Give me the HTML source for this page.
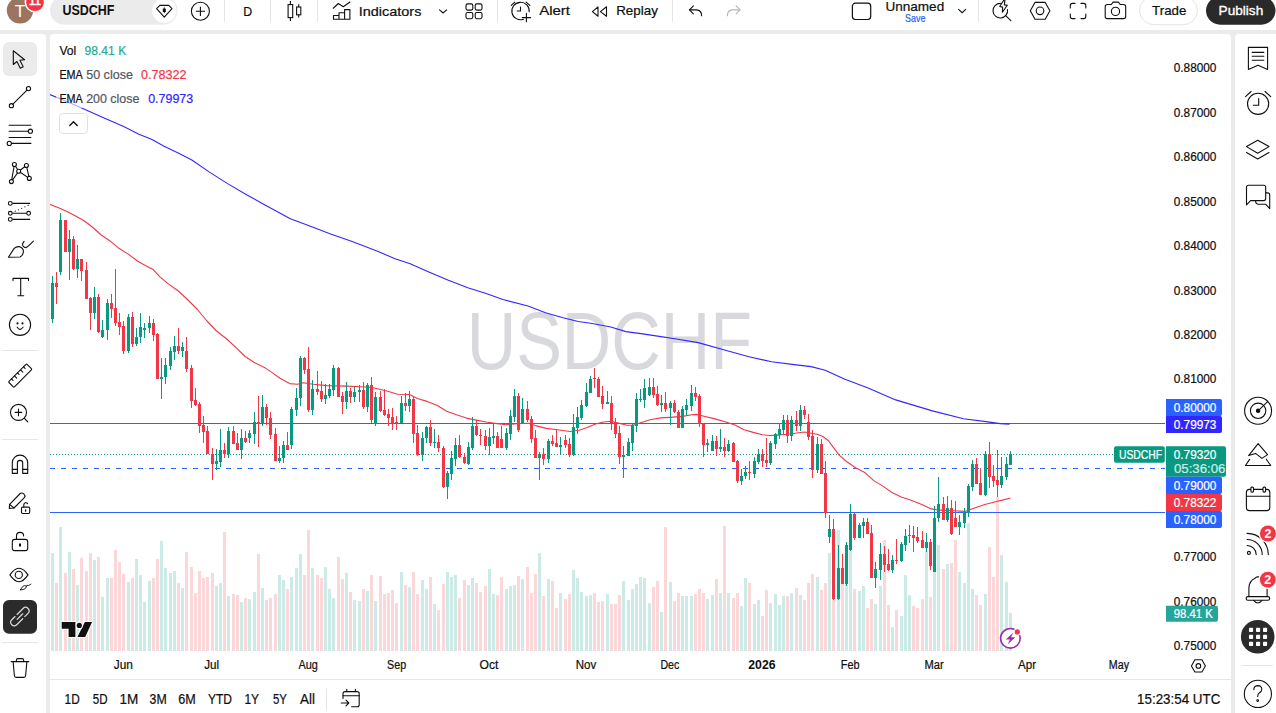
<!DOCTYPE html>
<html lang="en"><head><meta charset="utf-8"><title>USDCHF chart</title>
<style>
html,body{margin:0;padding:0}
body{width:1276px;height:713px;overflow:hidden;background:#ebebeb;position:relative;font-family:"Liberation Sans", "DejaVu Sans", sans-serif}
.abs{position:absolute;display:block}
svg text{font-family:"Liberation Sans", "DejaVu Sans", sans-serif;white-space:pre}
</style></head><body>
<div id="topbar" class="abs" style="left:0;top:0;width:1276px;height:30px;background:#fff"></div>
<svg class="abs icons" style="left:0px;top:0px" width="1276" height="30" viewBox="0 0 1276 30">
<circle cx="20" cy="10.3" r="13.2" fill="#9c7560"/>
<text x="20.0" y="16.5" font-size="17" fill="#fff" text-anchor="middle">T</text>
<circle cx="35" cy="2.2" r="10.4" fill="#fff"/>
<circle cx="35" cy="2.2" r="8.8" fill="#f23645"/>
<text x="35.0" y="5.4" font-size="11.5" fill="#fff" text-anchor="middle" stroke="#fff" stroke-width="0.6">11</text>
<rect x="50" y="-4" width="127.5" height="28.8" rx="14.4" fill="#ebebeb"/>
<text x="62.4" y="15.3" font-size="14" fill="#0f0f0f" font-weight="700" textLength="52.0" lengthAdjust="spacingAndGlyphs">USDCHF</text>
<circle cx="164.3" cy="10.6" r="12.2" fill="#fff"/>
<path d="M156.6 8.6 L159.8 5.4 L168.8 5.4 L172 8.6 L164.3 17.2 Z" fill="none" stroke="#0f0f0f" stroke-width="1.1" stroke-linejoin="round"/>
<rect x="162.8" y="8.6" width="3" height="3.4" fill="#0f0f0f"/><path d="M164.3 7.4V13.2" stroke="#0f0f0f" stroke-width="0.9"/>
<circle cx="200.4" cy="11.3" r="9" fill="none" stroke="#0f0f0f" stroke-width="1.1"/>
<path d="M195.8 11.3H205 M200.4 6.7V15.9" stroke="#0f0f0f" stroke-width="1.1"/>
<path d="M224.5 0V22" stroke="#e6e6e6" stroke-width="1"/>
<path d="M270.5 0V22" stroke="#e6e6e6" stroke-width="1"/>
<path d="M317.5 0V22" stroke="#e6e6e6" stroke-width="1"/>
<path d="M497.5 0V22" stroke="#e6e6e6" stroke-width="1"/>
<path d="M672.5 0V22" stroke="#e6e6e6" stroke-width="1"/>
<path d="M978.5 0V22" stroke="#e6e6e6" stroke-width="1"/>
<text x="243.2" y="15.7" font-size="13.5" fill="#0f0f0f" textLength="8.9" lengthAdjust="spacingAndGlyphs" stroke="#0f0f0f" stroke-width="0.22">D</text>
<g fill="none" stroke="#0f0f0f" stroke-width="1.1"><rect x="288.1" y="4.6" width="4.6" height="13"/><path d="M290.4 1.1V4.6 M290.4 17.6V20.9"/><rect x="296.6" y="7" width="4.2" height="7.8"/><path d="M298.7 4.2V7 M298.7 14.8V17.6"/></g>
<g fill="none" stroke="#0f0f0f" stroke-width="1.1" stroke-linejoin="round"><path d="M333.5 19.3V15.5H339V12.7H344.6V9.6H349.9V19.3Z M339 15.5V19.3 M344.6 12.7V19.3"/><path d="M333 8.5L338.3 3.5L343.3 6.8L350.3 1.7"/></g>
<text x="358.8" y="15.5" font-size="13.5" fill="#0f0f0f" textLength="62.6" lengthAdjust="spacingAndGlyphs" stroke="#0f0f0f" stroke-width="0.22">Indicators</text>
<path d="M439.2 9.6L443 13L447 9.6" fill="none" stroke="#0f0f0f" stroke-width="1.1"/>
<rect x="466" y="3.9" width="6.8" height="6.2" rx="1.6" fill="none" stroke="#0f0f0f" stroke-width="1.1"/>
<rect x="475.2" y="3.9" width="6.8" height="6.2" rx="1.6" fill="none" stroke="#0f0f0f" stroke-width="1.1"/>
<rect x="466" y="12.5" width="6.8" height="6.2" rx="1.6" fill="none" stroke="#0f0f0f" stroke-width="1.1"/>
<rect x="475.2" y="12.5" width="6.8" height="6.2" rx="1.6" fill="none" stroke="#0f0f0f" stroke-width="1.1"/>
<g fill="none" stroke="#0f0f0f" stroke-width="1.1" stroke-linecap="round"><path d="M523.5 19.2A8.7 8.7 0 1 1 529.2 11.8"/><path d="M520.5 7V11H517.2"/><path d="M511.3 5.4L514.8 2.1 M526.1 2.1L529.9 5.4"/><path d="M526.4 13.4V21.8 M522.2 17.6H530.6"/></g>
<text x="539.2" y="15.3" font-size="13.5" fill="#0f0f0f" textLength="30.8" lengthAdjust="spacingAndGlyphs" stroke="#0f0f0f" stroke-width="0.22">Alert</text>
<g fill="none" stroke="#0f0f0f" stroke-width="1.1" stroke-linejoin="round"><path d="M592.4 11.6L598 6.8V16.2Z"/><path d="M600.4 11.6L606.5 6.8V16.2Z"/></g>
<text x="616.2" y="15.3" font-size="13.5" fill="#0f0f0f" textLength="41.7" lengthAdjust="spacingAndGlyphs" stroke="#0f0f0f" stroke-width="0.22">Replay</text>
<g fill="none" stroke="#0f0f0f" stroke-width="1.1" stroke-linecap="round" stroke-linejoin="round"><path d="M693.4 5.9L689.5 9.9L693.4 13.8"/><path d="M689.5 9.9H696.5Q701.6 10.2 701.6 15.8"/></g>
<g fill="none" stroke="#b2b5be" stroke-width="1.1" stroke-linecap="round" stroke-linejoin="round"><path d="M736.1 5.9L740 9.9L736.1 13.8"/><path d="M740 9.9H732.6Q727.4 10.2 727.4 15.8"/></g>
<rect x="852.4" y="3.2" width="18.3" height="16.3" rx="3" fill="none" stroke="#0f0f0f" stroke-width="1.2"/>
<text x="885.4" y="10.6" font-size="13.5" fill="#0f0f0f" textLength="58.8" lengthAdjust="spacingAndGlyphs" stroke="#0f0f0f" stroke-width="0.22">Unnamed</text>
<text x="905.0" y="21.9" font-size="11" fill="#2962ff" textLength="20.4" lengthAdjust="spacingAndGlyphs" stroke="#2962ff" stroke-width="0.22">Save</text>
<path d="M958.3 9.2L962.1 12.7L966 9.2" fill="none" stroke="#0f0f0f" stroke-width="1.1"/>
<g fill="none" stroke="#0f0f0f" stroke-width="1.1" stroke-linecap="round" stroke-linejoin="round"><path d="M1000.4 3.4A7.3 7.3 0 1 0 1007.5 9.6"/><path d="M1005.9 15.9L1010.9 20.6"/><path d="M1003.9 0L999.7 6.5L1002.6 7.1L1002.4 12.3L1007.3 5.3L1004.4 4.9L1004.9 0" fill="#fff"/></g>
<g fill="none" stroke="#0f0f0f" stroke-width="1.1" stroke-linejoin="round"><path d="M1030.3 10.8L1035 2.4H1045.2L1049.9 10.8L1045.2 19.3H1035Z"/><circle cx="1040" cy="10.8" r="3.8"/></g>
<g fill="none" stroke="#0f0f0f" stroke-width="1.1" stroke-linecap="round"><path d="M1070.3 8V5.5Q1070.3 3.4 1072.4 3.4H1075"/><path d="M1081 3.4H1083.6Q1085.8 3.4 1085.8 5.5V8"/><path d="M1085.8 14V16.5Q1085.8 18.6 1083.6 18.6H1081"/><path d="M1075 18.6H1072.4Q1070.3 18.6 1070.3 16.5V14"/></g>
<g fill="none" stroke="#0f0f0f" stroke-width="1.1" stroke-linejoin="round"><path d="M1107.4 4.5H1111.3L1113.1 2.1H1118.4L1120.2 4.5H1123.5Q1125.7 4.5 1125.7 6.7V16.4Q1125.7 18.6 1123.5 18.6H1107.4Q1105.2 18.6 1105.2 16.4V6.7Q1105.2 4.5 1107.4 4.5Z"/><circle cx="1115.5" cy="11.4" r="4.1"/></g>
<rect x="1139.5" y="-3.5" width="58" height="28.2" rx="14.1" fill="#fff" stroke="#e4e4e4" stroke-width="1"/>
<text x="1152.1" y="15.3" font-size="13.5" fill="#0f0f0f" textLength="34.3" lengthAdjust="spacingAndGlyphs" stroke="#0f0f0f" stroke-width="0.22">Trade</text>
<rect x="1206" y="-3.5" width="69.5" height="28.2" rx="14.1" fill="#2a2a2a"/>
<text x="1218.6" y="15.3" font-size="13.5" fill="#fff" textLength="44.6" lengthAdjust="spacingAndGlyphs" stroke="#fff" stroke-width="0.35">Publish</text>
</svg>
<div id="lefttools" class="abs" style="left:0;top:34px;width:46px;height:679px;background:#fff;border-top-right-radius:4px"></div>
<svg class="abs icons" style="left:0px;top:34px" width="46" height="679" viewBox="0 34 46 679">
<rect x="3" y="42" width="34" height="34" rx="6" fill="#ebebeb"/>
<path d="M13.3 50.8L13.3 64.5L16.9 61.5L20.3 68.2L23.2 66.8L19.9 60.2L24.6 59.8Z" fill="none" stroke="#0f0f0f" stroke-width="1.1" stroke-linecap="round" stroke-linejoin="round" stroke-width="1.2"/>
<g fill="none" stroke="#0f0f0f" stroke-width="1.1" stroke-linecap="round" stroke-linejoin="round"><path d="M12.9 104.2L27 90.1"/><circle cx="28.5" cy="88.6" r="2.1"/><circle cx="11.4" cy="105.7" r="2.1"/></g>
<g fill="none" stroke="#0f0f0f" stroke-width="1.1" stroke-linecap="round" stroke-linejoin="round"><path d="M9.1 125.3H30.9 M9.1 131.2H28.2 M9.1 137.5H30.9 M11.5 143.4H30.9"/><circle cx="30.4" cy="131.2" r="2.1" fill="#fff"/><circle cx="9.3" cy="143.4" r="2.1" fill="#fff"/></g>
<g fill="none" stroke="#0f0f0f" stroke-width="1.1" stroke-linecap="round" stroke-linejoin="round"><path d="M11.4 181.6L14.4 164.5L18.7 171.2L26.4 165.5L29.3 178.4L18.7 171.2Z"/>
<circle cx="14.4" cy="164.5" r="2" fill="#fff"/>
<circle cx="26.4" cy="165.5" r="2" fill="#fff"/>
<circle cx="18.7" cy="171.2" r="2" fill="#fff"/>
<circle cx="29.3" cy="178.4" r="2" fill="#fff"/>
<circle cx="11.4" cy="181.6" r="2" fill="#fff"/>
</g>
<g fill="none" stroke="#0f0f0f" stroke-width="1.1" stroke-linecap="round" stroke-linejoin="round"><path d="M12.6 203.4H29.7 M12.6 213.3H26.4 M12.6 219.4H29.7"/><circle cx="10.3" cy="203.4" r="1.9" fill="#fff"/><circle cx="10.3" cy="213.3" r="1.9" fill="#fff"/><circle cx="28.6" cy="213.3" r="1.9" fill="#fff"/><circle cx="10.3" cy="219.4" r="1.9" fill="#fff"/></g>
<circle cx="15.3" cy="211.2" r="0.6" fill="#0f0f0f"/>
<circle cx="18.5" cy="209.8" r="0.6" fill="#0f0f0f"/>
<circle cx="21.7" cy="208.3" r="0.6" fill="#0f0f0f"/>
<circle cx="24.9" cy="206.8" r="0.6" fill="#0f0f0f"/>
<circle cx="28.1" cy="205.4" r="0.6" fill="#0f0f0f"/>
<g fill="none" stroke="#0f0f0f" stroke-width="1.1" stroke-linecap="round" stroke-linejoin="round"><path d="M8.4 257.3L14.2 248.4Q16.2 246.4 19 246.6Q23.6 247.6 23.4 252Q23 255.6 20 257Z"/><path d="M24.1 241.4L22.6 243.6Q22.2 247.2 26 247.6Q27.4 247.2 33.4 241.1"/></g>
<g fill="none" stroke="#0f0f0f" stroke-width="1.1" stroke-linecap="round" stroke-linejoin="round"><path d="M13 280.6V278.4H28.5V280.6 M20.7 278.4V295.7 M17.8 295.7H23.7"/></g>
<g fill="none" stroke="#0f0f0f" stroke-width="1.1" stroke-linecap="round" stroke-linejoin="round"><circle cx="20" cy="324.8" r="10.6"/><path d="M17.2 327.2Q20 331.6 23 327.2"/><circle cx="17.5" cy="323.4" r="0.5" fill="#0f0f0f"/><circle cx="22.5" cy="323.4" r="0.5" fill="#0f0f0f"/></g>
<path d="M2 350.5H38" stroke="#e6e6e6"/>
<g fill="none" stroke="#0f0f0f" stroke-width="1.1" stroke-linecap="round" stroke-linejoin="round" transform="rotate(-45 20.2 375.6)"><rect x="7.4" y="371.75" width="25.6" height="7.7" rx="0.8"/><path d="M11.7 371.75V374 M15.9 371.75V375 M20.2 371.75V374 M24.5 371.75V375 M28.7 371.75V374"/></g>
<g fill="none" stroke="#0f0f0f" stroke-width="1.1" stroke-linecap="round" stroke-linejoin="round"><circle cx="18.5" cy="412.4" r="8"/><path d="M15.2 412.4H21.8 M18.5 409.1V415.7 M24.4 418.3L27.8 421.8"/></g>
<path d="M2 439.5H38" stroke="#e6e6e6"/>
<g fill="none" stroke="#0f0f0f" stroke-width="1.1" stroke-linecap="round" stroke-linejoin="round"><path d="M12.3 473.4V462.8A7.7 7.7 0 0 1 27.7 462.8V473.4H22.7V463A2.65 2.65 0 0 0 17.4 463V473.4Z"/><path d="M12.3 469.4H17.4 M22.7 469.4H27.7"/></g>
<g fill="none" stroke="#0f0f0f" stroke-width="1.1" stroke-linecap="round" stroke-linejoin="round"><path d="M9.3 508.4L9.6 504.3L20.2 493.5Q22 492.4 23.8 493.9Q25.6 495.6 24.6 497.4L14 508Z"/><path d="M9.6 504.3L14 508"/><rect x="21.5" y="507.1" width="8.2" height="6.4" rx="1.2" fill="#fff"/><path d="M23.8 507.1V504.6A2.1 2.1 0 0 1 27.6 503.6"/><path d="M25.6 510V511.2" stroke-width="1.3"/></g>
<g fill="none" stroke="#0f0f0f" stroke-width="1.1" stroke-linecap="round" stroke-linejoin="round"><rect x="12.3" y="539.4" width="15.4" height="11.2" rx="2.4"/><path d="M16.5 539.4V535.9A3.55 3.55 0 0 1 23.6 535.9"/><path d="M20 543.6V546.4" stroke-width="2" stroke-linecap="butt"/></g>
<g fill="none" stroke="#0f0f0f" stroke-width="1.1" stroke-linecap="round" stroke-linejoin="round"><path d="M9.9 574.9C13 570.4 16 568.2 18.9 568.2C22 568.2 25 570.4 28 574.9C25 579.4 22 581.7 18.9 581.7C16 581.7 13 579.4 9.9 574.9Z"/><circle cx="18.8" cy="574.9" r="3.6"/><path d="M20.4 589.7L22.8 586.4Q24.8 585 26.6 586Q26.4 588.4 24.2 589.2Z M26.9 585.6Q28.6 586.2 30.9 584.2" stroke-width="0.9"/></g>
<rect x="3" y="600.1" width="34" height="33.7" rx="6" fill="#2b2b2b"/>
<g fill="none" stroke="#dcdcdc" stroke-width="1.2" stroke-linecap="round" transform="translate(19.9 616.6) rotate(-45)"><path d="M-0.5 -3.5H8A3.5 3.5 0 0 1 8 3.5H3.4"/><path d="M0.5 3.5H-8A3.5 3.5 0 0 1 -8 -3.5H-3.4"/><path d="M-4 0H4"/></g>
<path d="M2 642.5H38" stroke="#e6e6e6"/>
<g fill="none" stroke="#0f0f0f" stroke-width="1.1" stroke-linecap="round" stroke-linejoin="round"><path d="M11.2 661.6H28.8 M16.4 661.6V660Q16.4 658.6 17.8 658.6H22.2Q23.6 658.6 23.6 660V661.6 M13.1 661.6L14.4 675.8Q14.6 677.4 16.2 677.4H23.8Q25.4 677.4 25.6 675.8L26.9 661.6"/></g>
</svg>
<div id="chartpanel" class="abs" style="left:50px;top:34px;width:1181px;height:679px;background:#fff;border-radius:4px 4px 0 0"></div>
<svg class="abs chart" style="left:50px;top:34px" width="1181" height="679" viewBox="50 34 1181 679">
<defs><clipPath id="pc"><rect x="50" y="34" width="1115" height="617"/></clipPath></defs>
<text x="609.4" y="368.5" font-size="81" fill="#d8d9dc" text-anchor="middle" textLength="285.5" lengthAdjust="spacingAndGlyphs">USDCHF</text>
<g clip-path="url(#pc)">
<path d="M51 553h3V651h-3zM59 527h3V651h-3zM68 552h3V651h-3zM76 585h3V651h-3zM93 560h3V651h-3zM101 597h3V651h-3zM106 578h3V651h-3zM127 582h3V651h-3zM135 559h3V651h-3zM139 575h3V651h-3zM143 602h3V651h-3zM148 581h3V651h-3zM160 541h3V651h-3zM164 568h3V651h-3zM169 573h3V651h-3zM173 571h3V651h-3zM181 588h3V651h-3zM215 586h3V651h-3zM219 583h3V651h-3zM227 596h3V651h-3zM240 602h3V651h-3zM248 599h3V651h-3zM253 592h3V651h-3zM261 588h3V651h-3zM278 575h3V651h-3zM282 580h3V651h-3zM290 577h3V651h-3zM295 568h3V651h-3zM299 554h3V651h-3zM311 568h3V651h-3zM324 567h3V651h-3zM328 589h3V651h-3zM332 598h3V651h-3zM345 573h3V651h-3zM353 600h3V651h-3zM358 601h3V651h-3zM366 591h3V651h-3zM374 601h3V651h-3zM400 572h3V651h-3zM408 587h3V651h-3zM421 580h3V651h-3zM425 589h3V651h-3zM433 604h3V651h-3zM446 572h3V651h-3zM450 577h3V651h-3zM454 575h3V651h-3zM467 585h3V651h-3zM471 578h3V651h-3zM488 569h3V651h-3zM492 594h3V651h-3zM505 589h3V651h-3zM509 586h3V651h-3zM513 585h3V651h-3zM521 579h3V651h-3zM538 553h3V651h-3zM547 579h3V651h-3zM559 593h3V651h-3zM572 570h3V651h-3zM576 578h3V651h-3zM580 592h3V651h-3zM585 596h3V651h-3zM589 595h3V651h-3zM606 594h3V651h-3zM622 581h3V651h-3zM627 600h3V651h-3zM631 589h3V651h-3zM635 584h3V651h-3zM639 577h3V651h-3zM643 578h3V651h-3zM648 603h3V651h-3zM660 612h3V651h-3zM669 582h3V651h-3zM681 596h3V651h-3zM685 596h3V651h-3zM690 596h3V651h-3zM706 599h3V651h-3zM711 595h3V651h-3zM719 593h3V651h-3zM727 593h3V651h-3zM740 606h3V651h-3zM744 578h3V651h-3zM753 604h3V651h-3zM757 600h3V651h-3zM769 603h3V651h-3zM774 594h3V651h-3zM778 605h3V651h-3zM782 596h3V651h-3zM790 593h3V651h-3zM799 595h3V651h-3zM816 577h3V651h-3zM828 553h3V651h-3zM837 530h3V651h-3zM845 565h3V651h-3zM849 550h3V651h-3zM858 591h3V651h-3zM862 586h3V651h-3zM874 604h3V651h-3zM879 586h3V651h-3zM891 627h3V651h-3zM900 616h3V651h-3zM904 575h3V651h-3zM908 595h3V651h-3zM925 551h3V651h-3zM933 560h3V651h-3zM937 545h3V651h-3zM946 564h3V651h-3zM958 572h3V651h-3zM963 583h3V651h-3zM967 523h3V651h-3zM971 589h3V651h-3zM984 594h3V651h-3zM1000 555h3V651h-3zM1005 582h3V651h-3zM1009 613h3V651h-3z" fill="#cdebe6"/>
<path d="M55 583h3V651h-3zM64 573h3V651h-3zM72 569h3V651h-3zM80 558h3V651h-3zM85 571h3V651h-3zM89 553h3V651h-3zM97 557h3V651h-3zM110 578h3V651h-3zM114 550h3V651h-3zM118 562h3V651h-3zM122 574h3V651h-3zM131 578h3V651h-3zM152 578h3V651h-3zM156 559h3V651h-3zM177 583h3V651h-3zM185 552h3V651h-3zM190 567h3V651h-3zM194 593h3V651h-3zM198 571h3V651h-3zM202 578h3V651h-3zM206 577h3V651h-3zM211 573h3V651h-3zM223 532h3V651h-3zM232 594h3V651h-3zM236 595h3V651h-3zM244 598h3V651h-3zM257 554h3V651h-3zM265 600h3V651h-3zM269 598h3V651h-3zM274 594h3V651h-3zM286 589h3V651h-3zM303 575h3V651h-3zM307 530h3V651h-3zM316 575h3V651h-3zM320 578h3V651h-3zM337 557h3V651h-3zM341 579h3V651h-3zM349 592h3V651h-3zM362 589h3V651h-3zM370 575h3V651h-3zM379 576h3V651h-3zM383 594h3V651h-3zM387 593h3V651h-3zM391 590h3V651h-3zM395 603h3V651h-3zM404 585h3V651h-3zM412 572h3V651h-3zM416 594h3V651h-3zM429 577h3V651h-3zM437 610h3V651h-3zM442 584h3V651h-3zM458 598h3V651h-3zM463 580h3V651h-3zM475 583h3V651h-3zM479 592h3V651h-3zM484 586h3V651h-3zM496 595h3V651h-3zM500 577h3V651h-3zM517 576h3V651h-3zM526 567h3V651h-3zM530 593h3V651h-3zM534 574h3V651h-3zM542 596h3V651h-3zM551 581h3V651h-3zM555 608h3V651h-3zM564 599h3V651h-3zM568 594h3V651h-3zM593 593h3V651h-3zM597 602h3V651h-3zM601 601h3V651h-3zM610 604h3V651h-3zM614 604h3V651h-3zM618 595h3V651h-3zM652 587h3V651h-3zM656 581h3V651h-3zM664 527h3V651h-3zM673 601h3V651h-3zM677 593h3V651h-3zM694 594h3V651h-3zM698 589h3V651h-3zM702 593h3V651h-3zM715 579h3V651h-3zM723 526h3V651h-3zM732 598h3V651h-3zM736 593h3V651h-3zM748 583h3V651h-3zM761 616h3V651h-3zM765 590h3V651h-3zM786 596h3V651h-3zM795 588h3V651h-3zM803 600h3V651h-3zM807 583h3V651h-3zM811 574h3V651h-3zM820 590h3V651h-3zM824 583h3V651h-3zM832 560h3V651h-3zM841 575h3V651h-3zM853 589h3V651h-3zM866 608h3V651h-3zM870 599h3V651h-3zM883 540h3V651h-3zM887 605h3V651h-3zM895 610h3V651h-3zM912 606h3V651h-3zM916 608h3V651h-3zM921 599h3V651h-3zM929 597h3V651h-3zM942 569h3V651h-3zM950 563h3V651h-3zM954 540h3V651h-3zM975 595h3V651h-3zM979 605h3V651h-3zM988 547h3V651h-3zM992 577h3V651h-3zM996 497h3V651h-3z" fill="#fcd7da"/>
<path d="M50 423.5H1165 M50 512.5H1165" stroke="#2962ff" stroke-width="1" shape-rendering="crispEdges"/>
<path d="M50 468.5H1165" stroke="#2962ff" stroke-width="1" stroke-dasharray="5 6" shape-rendering="crispEdges"/>
<path d="M50 454.5H1114" stroke="#089981" stroke-width="1" stroke-dasharray="1 2" shape-rendering="crispEdges"/>
<path d="M50.0 94.6 L63.1 100.1 L78.3 106.5 L93.4 113.3 L103.5 117.8 L123.7 126.6 L138.9 134.2 L151.5 139.3 L164.1 146.3 L179.2 153.6 L191.8 160.0 L209.5 172.1 L227.2 183.4 L247.4 195.3 L265.0 204.9 L280.2 213.2 L290.3 218.8 L310.5 226.3 L330.6 233.9 L350.8 241.0 L360.0 244.5 L377.6 251.3 L395.1 258.8 L410.2 263.8 L427.7 271.4 L447.8 280.1 L467.8 287.7 L485.4 293.2 L502.9 299.5 L528.0 306.0 L545.6 312.7 L563.1 317.8 L578.2 321.5 L590.7 323.3 L610.8 327.0 L625.8 331.6 L640.9 333.6 L660.9 336.6 L675.0 338.8 L698.2 342.6 L726.4 350.5 L749.0 356.7 L771.6 361.8 L794.2 364.6 L811.1 366.6 L825.2 370.2 L844.9 379.3 L867.5 387.7 L895.7 399.9 L932.4 410.9 L963.5 418.8 L986.0 421.6 L1000.1 423.6 L1009.5 424.1" fill="none" stroke="#3126ff" stroke-width="1.1" stroke-linejoin="round"/>
<path d="M49.4 204.2 L60.3 208.4 L69.0 212.6 L76.0 216.3 L84.5 221.0 L92.9 227.5 L101.3 235.0 L109.7 240.7 L118.1 247.7 L127.9 253.9 L137.8 261.2 L146.2 265.9 L153.2 269.6 L160.2 277.1 L168.0 283.6 L178.3 291.0 L188.0 300.0 L197.4 309.5 L207.0 321.0 L216.0 330.5 L227.3 339.5 L236.3 347.9 L245.2 356.5 L254.2 362.5 L265.4 368.1 L272.2 372.6 L280.0 378.2 L283.7 380.3 L289.6 383.6 L297.5 384.2 L303.3 382.8 L313.2 384.2 L326.9 385.6 L346.5 386.1 L360.3 386.7 L372.1 387.5 L387.8 391.3 L397.6 394.2 L409.4 394.5 L417.3 398.5 L427.1 401.4 L436.9 405.3 L446.7 411.2 L456.5 414.8 L466.4 418.1 L476.2 420.1 L486.0 422.0 L497.1 423.6 L506.2 424.7 L517.2 423.8 L528.1 423.3 L535.4 425.6 L546.3 428.4 L557.3 429.8 L570.0 431.5 L579.2 430.2 L586.5 427.8 L595.6 424.0 L603.3 422.0 L611.4 421.3 L619.1 423.3 L626.8 425.2 L633.0 425.2 L640.7 422.8 L650.0 419.8 L660.8 417.9 L673.1 417.1 L682.4 416.4 L691.6 414.7 L696.3 414.4 L704.0 416.2 L714.9 418.9 L725.9 422.0 L735.0 425.1 L744.1 429.7 L753.2 432.4 L762.4 434.8 L769.7 435.5 L777.0 435.1 L787.1 434.2 L795.2 433.3 L804.3 432.0 L811.6 433.2 L817.3 434.3 L822.8 436.5 L828.2 440.5 L833.7 447.8 L839.2 455.1 L846.5 461.5 L855.6 467.8 L864.7 472.4 L873.8 480.6 L882.9 486.1 L892.0 492.5 L901.2 497.0 L910.3 500.1 L919.4 503.6 L926.7 506.8 L931.2 508.9 L936.0 509.6 L943.6 510.4 L953.4 510.8 L965.2 511.4 L973.0 508.4 L984.8 504.5 L996.6 501.5 L1004.5 499.6 L1010.4 498.0" fill="none" stroke="#f23645" stroke-width="1.1" stroke-linejoin="round"/>
<path d="M52 276h1V323h-1zM51 283h3V319h-3zM60 213h1V275h-1zM59 220h3V272h-3zM69 230h1V280h-1zM68 239h3V252h-3zM77 245h1V278h-1zM76 259h3V269h-3zM94 287h1V319h-1zM93 297h3V313h-3zM102 320h1V338h-1zM101 330h3V337h-3zM107 299h1V340h-1zM106 303h3V330h-3zM128 314h1V353h-1zM127 317h3V351h-3zM136 328h1V346h-1zM135 337h3V344h-3zM140 313h1V343h-1zM139 327h3V337h-3zM144 323h1V338h-1zM143 328h3V330h-3zM149 316h1V333h-1zM148 323h3V328h-3zM161 358h1V399h-1zM160 377h3V379h-3zM165 358h1V384h-1zM164 365h3V377h-3zM170 347h1V370h-1zM169 351h3V366h-3zM174 336h1V360h-1zM173 346h3V352h-3zM182 342h1V357h-1zM181 347h3V351h-3zM216 449h1V470h-1zM215 461h3V464h-3zM220 429h1V467h-1zM219 450h3V462h-3zM228 427h1V458h-1zM227 431h3V454h-3zM241 429h1V459h-1zM240 438h3V450h-3zM249 430h1V443h-1zM248 433h3V438h-3zM254 412h1V444h-1zM253 422h3V434h-3zM262 395h1V426h-1zM261 407h3V424h-3zM279 446h1V463h-1zM278 458h3V461h-3zM283 441h1V463h-1zM282 445h3V458h-3zM291 407h1V449h-1zM290 409h3V445h-3zM296 388h1V416h-1zM295 398h3V410h-3zM300 356h1V406h-1zM299 358h3V398h-3zM312 380h1V415h-1zM311 389h3V410h-3zM325 384h1V404h-1zM324 395h3V399h-3zM329 384h1V398h-1zM328 389h3V396h-3zM333 365h1V396h-1zM332 368h3V390h-3zM346 382h1V409h-1zM345 391h3V402h-3zM354 387h1V402h-1zM353 392h3V397h-3zM359 385h1V402h-1zM358 390h3V392h-3zM367 383h1V412h-1zM366 385h3V407h-3zM375 392h1V426h-1zM374 397h3V424h-3zM401 396h1V423h-1zM400 403h3V423h-3zM409 391h1V412h-1zM408 399h3V406h-3zM422 432h1V461h-1zM421 438h3V455h-3zM426 426h1V443h-1zM425 427h3V438h-3zM434 429h1V448h-1zM433 442h3V443h-3zM447 471h1V499h-1zM446 473h3V487h-3zM451 451h1V480h-1zM450 458h3V474h-3zM455 438h1V466h-1zM454 445h3V459h-3zM468 442h1V465h-1zM467 447h3V464h-3zM472 417h1V450h-1zM471 426h3V448h-3zM489 428h1V455h-1zM488 437h3V446h-3zM493 423h1V444h-1zM492 436h3V438h-3zM506 428h1V450h-1zM505 433h3V448h-3zM510 410h1V440h-1zM509 416h3V434h-3zM514 389h1V422h-1zM513 396h3V417h-3zM522 398h1V424h-1zM521 409h3V423h-3zM539 452h1V480h-1zM538 454h3V458h-3zM548 439h1V463h-1zM547 441h3V459h-3zM560 437h1V455h-1zM559 445h3V447h-3zM573 414h1V456h-1zM572 427h3V455h-3zM577 407h1V434h-1zM576 417h3V428h-3zM581 400h1V420h-1zM580 405h3V418h-3zM586 383h1V407h-1zM585 392h3V406h-3zM590 376h1V393h-1zM589 379h3V393h-3zM607 391h1V404h-1zM606 402h3V404h-3zM623 446h1V478h-1zM622 455h3V457h-3zM628 438h1V456h-1zM627 442h3V456h-3zM632 424h1V451h-1zM631 425h3V443h-3zM636 393h1V432h-1zM635 399h3V426h-3zM640 389h1V402h-1zM639 399h3V400h-3zM644 379h1V408h-1zM643 388h3V400h-3zM649 378h1V396h-1zM648 387h3V395h-3zM661 395h1V412h-1zM660 403h3V405h-3zM670 401h1V425h-1zM669 403h3V408h-3zM682 406h1V428h-1zM681 409h3V428h-3zM686 399h1V415h-1zM685 405h3V410h-3zM691 385h1V411h-1zM690 393h3V406h-3zM707 439h1V452h-1zM706 443h3V445h-3zM712 435h1V451h-1zM711 441h3V451h-3zM720 429h1V452h-1zM719 447h3V449h-3zM728 440h1V452h-1zM727 444h3V451h-3zM741 469h1V485h-1zM740 476h3V481h-3zM745 466h1V479h-1zM744 472h3V476h-3zM754 457h1V478h-1zM753 461h3V474h-3zM758 449h1V464h-1zM757 454h3V462h-3zM770 441h1V465h-1zM769 443h3V463h-3zM775 433h1V449h-1zM774 434h3V444h-3zM779 424h1V439h-1zM778 429h3V435h-3zM783 415h1V434h-1zM782 420h3V430h-3zM791 416h1V441h-1zM790 420h3V436h-3zM800 405h1V431h-1zM799 410h3V426h-3zM817 437h1V473h-1zM816 444h3V470h-3zM829 515h1V543h-1zM828 529h3V537h-3zM838 545h1V600h-1zM837 568h3V599h-3zM846 542h1V586h-1zM845 545h3V584h-3zM850 504h1V551h-1zM849 514h3V550h-3zM859 523h1V538h-1zM858 525h3V538h-3zM863 518h1V538h-1zM862 522h3V526h-3zM875 562h1V588h-1zM874 569h3V578h-3zM880 543h1V580h-1zM879 554h3V570h-3zM892 555h1V573h-1zM891 560h3V570h-3zM901 542h1V562h-1zM900 544h3V561h-3zM905 529h1V551h-1zM904 536h3V545h-3zM909 525h1V543h-1zM908 535h3V536h-3zM926 533h1V552h-1zM925 542h3V548h-3zM934 506h1V572h-1zM933 518h3V572h-3zM938 477h1V522h-1zM937 504h3V518h-3zM947 496h1V522h-1zM946 508h3V520h-3zM959 515h1V535h-1zM958 522h3V527h-3zM964 508h1V528h-1zM963 513h3V523h-3zM968 484h1V517h-1zM967 486h3V513h-3zM972 460h1V491h-1zM971 464h3V487h-3zM985 451h1V496h-1zM984 454h3V495h-3zM1001 457h1V488h-1zM1000 476h3V485h-3zM1006 457h1V480h-1zM1005 464h3V477h-3zM1010 451h1V465h-1zM1009 454h3V465h-3z" fill="#089981" shape-rendering="crispEdges"/>
<path d="M56 272h1V304h-1zM55 283h3V287h-3zM65 220h1V252h-1zM64 220h3V252h-3zM73 236h1V270h-1zM72 239h3V269h-3zM81 259h1V281h-1zM80 259h3V271h-3zM86 262h1V299h-1zM85 270h3V299h-3zM90 297h1V330h-1zM89 298h3V313h-3zM98 294h1V333h-1zM97 297h3V332h-3zM111 294h1V318h-1zM110 303h3V309h-3zM115 269h1V326h-1zM114 308h3V323h-3zM119 313h1V335h-1zM118 322h3V327h-3zM123 321h1V354h-1zM122 326h3V351h-3zM132 312h1V347h-1zM131 317h3V344h-3zM153 319h1V341h-1zM152 323h3V335h-3zM157 333h1V379h-1zM156 334h3V379h-3zM178 328h1V354h-1zM177 346h3V351h-3zM186 337h1V372h-1zM185 351h3V369h-3zM191 365h1V408h-1zM190 368h3V401h-3zM195 388h1V406h-1zM194 400h3V405h-3zM199 402h1V433h-1zM198 404h3V426h-3zM203 416h1V443h-1zM202 425h3V432h-3zM207 426h1V454h-1zM206 431h3V454h-3zM212 448h1V480h-1zM211 454h3V464h-3zM224 443h1V458h-1zM223 450h3V454h-3zM233 426h1V444h-1zM232 431h3V444h-3zM237 433h1V450h-1zM236 443h3V450h-3zM245 431h1V443h-1zM244 438h3V442h-3zM258 396h1V447h-1zM257 422h3V424h-3zM266 404h1V425h-1zM265 407h3V418h-3zM270 412h1V439h-1zM269 418h3V435h-3zM275 428h1V461h-1zM274 434h3V461h-3zM287 432h1V450h-1zM286 445h3V450h-3zM304 357h1V374h-1zM303 358h3V370h-3zM308 347h1V412h-1zM307 369h3V410h-3zM317 371h1V395h-1zM316 389h3V392h-3zM321 381h1V402h-1zM320 391h3V399h-3zM338 367h1V397h-1zM337 368h3V397h-3zM342 392h1V414h-1zM341 396h3V402h-3zM350 388h1V403h-1zM349 391h3V397h-3zM363 382h1V409h-1zM362 390h3V407h-3zM371 377h1V423h-1zM370 385h3V420h-3zM380 391h1V412h-1zM379 397h3V411h-3zM384 389h1V416h-1zM383 410h3V415h-3zM388 409h1V426h-1zM387 414h3V418h-3zM392 408h1V430h-1zM391 417h3V423h-3zM396 416h1V430h-1zM395 422h3V423h-3zM405 393h1V411h-1zM404 403h3V406h-3zM413 397h1V443h-1zM412 399h3V434h-3zM417 425h1V456h-1zM416 433h3V455h-3zM430 420h1V446h-1zM429 427h3V443h-3zM438 435h1V452h-1zM437 442h3V448h-3zM443 446h1V488h-1zM442 448h3V487h-3zM459 435h1V458h-1zM458 445h3V457h-3zM464 453h1V464h-1zM463 457h3V463h-3zM476 420h1V436h-1zM475 426h3V435h-3zM480 429h1V445h-1zM479 435h3V436h-3zM485 430h1V450h-1zM484 436h3V446h-3zM497 432h1V448h-1zM496 436h3V448h-3zM501 426h1V448h-1zM500 439h3V448h-3zM518 393h1V432h-1zM517 396h3V430h-3zM527 401h1V422h-1zM526 409h3V420h-3zM531 416h1V443h-1zM530 419h3V439h-3zM535 430h1V458h-1zM534 438h3V458h-3zM543 448h1V465h-1zM542 454h3V459h-3zM552 435h1V446h-1zM551 441h3V444h-3zM556 429h1V447h-1zM555 443h3V447h-3zM565 435h1V448h-1zM564 440h3V445h-3zM569 438h1V457h-1zM568 444h3V455h-3zM594 368h1V388h-1zM593 378h3V379h-3zM598 377h1V397h-1zM597 379h3V397h-3zM602 386h1V409h-1zM601 396h3V404h-3zM611 396h1V430h-1zM610 403h3V423h-3zM615 418h1V438h-1zM614 422h3V434h-3zM619 426h1V464h-1zM618 433h3V457h-3zM653 378h1V398h-1zM652 387h3V395h-3zM657 386h1V406h-1zM656 394h3V405h-3zM665 392h1V412h-1zM664 403h3V409h-3zM674 400h1V413h-1zM673 403h3V412h-3zM678 410h1V428h-1zM677 412h3V428h-3zM695 387h1V401h-1zM694 393h3V397h-3zM699 394h1V427h-1zM698 396h3V424h-3zM703 423h1V457h-1zM702 424h3V445h-3zM716 436h1V456h-1zM715 441h3V449h-3zM724 438h1V457h-1zM723 447h3V451h-3zM733 442h1V462h-1zM732 443h3V462h-3zM737 460h1V483h-1zM736 461h3V481h-3zM749 461h1V480h-1zM748 472h3V473h-3zM762 449h1V467h-1zM761 454h3V461h-3zM766 438h1V467h-1zM765 460h3V463h-3zM787 415h1V443h-1zM786 420h3V436h-3zM796 411h1V431h-1zM795 420h3V426h-3zM804 406h1V419h-1zM803 410h3V415h-3zM808 414h1V440h-1zM807 422h3V437h-3zM812 430h1V478h-1zM811 436h3V470h-3zM821 439h1V474h-1zM820 444h3V474h-3zM825 461h1V518h-1zM824 473h3V513h-3zM833 519h1V600h-1zM832 529h3V599h-3zM842 554h1V584h-1zM841 568h3V584h-3zM854 513h1V540h-1zM853 514h3V538h-3zM867 518h1V534h-1zM866 522h3V534h-3zM871 525h1V578h-1zM870 533h3V578h-3zM884 546h1V572h-1zM883 554h3V565h-3zM888 549h1V571h-1zM887 564h3V570h-3zM896 539h1V564h-1zM895 560h3V561h-3zM913 526h1V552h-1zM912 535h3V538h-3zM917 527h1V543h-1zM916 537h3V541h-3zM922 531h1V548h-1zM921 540h3V548h-3zM930 539h1V570h-1zM929 542h3V566h-3zM943 497h1V520h-1zM942 504h3V520h-3zM951 500h1V535h-1zM950 508h3V534h-3zM955 501h1V527h-1zM954 518h3V527h-3zM976 458h1V484h-1zM975 464h3V484h-3zM980 468h1V495h-1zM979 483h3V495h-3zM989 442h1V488h-1zM988 454h3V477h-3zM993 465h1V487h-1zM992 476h3V481h-3zM997 450h1V497h-1zM996 480h3V485h-3z" fill="#f23645" shape-rendering="crispEdges"/>
</g>
<g stroke="#fff" stroke-width="2" paint-order="stroke" stroke-linejoin="round"><path d="M61.7 621.9H75.4V637H68.6V628.7H61.7Z M84.9 621.9H92.1L85.2 637H77.4Z" fill="#111"/><circle cx="79.3" cy="625.4" r="2.6" fill="#111"/></g>
<circle cx="1010.4" cy="638.3" r="9.8" fill="#fff" stroke="#9c27b0" stroke-width="1.6"/>
<path d="M1013.4 632.6L1005.8 639.6H1010L1007.6 644.6L1015.2 637.2H1011Z" fill="#9c27b0"/>
<circle cx="1017.3" cy="631.9" r="3.6" fill="#fff"/><circle cx="1017.3" cy="631.9" r="2.6" fill="#f23645"/>
<rect x="56" y="41" width="74" height="19" fill="#fff" opacity="0.6"/>
<rect x="56" y="65" width="134" height="19" fill="#fff" opacity="0.6"/>
<rect x="56" y="89" width="141" height="19" fill="#fff" opacity="0.6"/>
<text x="59.4" y="54.7" font-size="13" fill="#0f0f0f" textLength="16.8" lengthAdjust="spacingAndGlyphs" stroke="#0f0f0f" stroke-width="0.22">Vol</text>
<text x="84.6" y="54.7" font-size="13" fill="#22ab94" textLength="41.6" lengthAdjust="spacingAndGlyphs" stroke="#22ab94" stroke-width="0.22">98.41 K</text>
<text x="59.4" y="78.7" font-size="13" fill="#0f0f0f" textLength="23.4" lengthAdjust="spacingAndGlyphs" stroke="#0f0f0f" stroke-width="0.22">EMA</text>
<text x="86.2" y="78.7" font-size="13" fill="#54575f" textLength="46.7" lengthAdjust="spacingAndGlyphs" stroke="#54575f" stroke-width="0.22">50 close</text>
<text x="140.9" y="78.7" font-size="13" fill="#f23645" textLength="45.6" lengthAdjust="spacingAndGlyphs" stroke="#f23645" stroke-width="0.22">0.78322</text>
<text x="59.4" y="102.7" font-size="13" fill="#0f0f0f" textLength="23.4" lengthAdjust="spacingAndGlyphs" stroke="#0f0f0f" stroke-width="0.22">EMA</text>
<text x="86.2" y="102.7" font-size="13" fill="#54575f" textLength="53.2" lengthAdjust="spacingAndGlyphs" stroke="#54575f" stroke-width="0.22">200 close</text>
<text x="148.2" y="102.7" font-size="13" fill="#3126ff" textLength="45.0" lengthAdjust="spacingAndGlyphs" stroke="#3126ff" stroke-width="0.22">0.79973</text>
<rect x="59.5" y="113.5" width="28" height="20" rx="3" fill="#fff" stroke="#e0e0e0"/>
<path d="M69.8 125.4L73.5 121.8L77.2 125.4" fill="none" stroke="#0f0f0f" stroke-width="1.4" stroke-linejoin="round" stroke-linecap="round"/>
<text x="1173.8" y="72.2" font-size="12" fill="#0f0f0f" textLength="42.6" lengthAdjust="spacingAndGlyphs" stroke="#0f0f0f" stroke-width="0.22">0.88000</text>
<text x="1173.8" y="116.7" font-size="12" fill="#0f0f0f" textLength="42.6" lengthAdjust="spacingAndGlyphs" stroke="#0f0f0f" stroke-width="0.22">0.87000</text>
<text x="1173.8" y="161.1" font-size="12" fill="#0f0f0f" textLength="42.6" lengthAdjust="spacingAndGlyphs" stroke="#0f0f0f" stroke-width="0.22">0.86000</text>
<text x="1173.8" y="205.6" font-size="12" fill="#0f0f0f" textLength="42.6" lengthAdjust="spacingAndGlyphs" stroke="#0f0f0f" stroke-width="0.22">0.85000</text>
<text x="1173.8" y="250.0" font-size="12" fill="#0f0f0f" textLength="42.6" lengthAdjust="spacingAndGlyphs" stroke="#0f0f0f" stroke-width="0.22">0.84000</text>
<text x="1173.8" y="294.5" font-size="12" fill="#0f0f0f" textLength="42.6" lengthAdjust="spacingAndGlyphs" stroke="#0f0f0f" stroke-width="0.22">0.83000</text>
<text x="1173.8" y="338.9" font-size="12" fill="#0f0f0f" textLength="42.6" lengthAdjust="spacingAndGlyphs" stroke="#0f0f0f" stroke-width="0.22">0.82000</text>
<text x="1173.8" y="383.3" font-size="12" fill="#0f0f0f" textLength="42.6" lengthAdjust="spacingAndGlyphs" stroke="#0f0f0f" stroke-width="0.22">0.81000</text>
<text x="1173.8" y="561.1" font-size="12" fill="#0f0f0f" textLength="42.6" lengthAdjust="spacingAndGlyphs" stroke="#0f0f0f" stroke-width="0.22">0.77000</text>
<text x="1173.8" y="605.6" font-size="12" fill="#0f0f0f" textLength="42.6" lengthAdjust="spacingAndGlyphs" stroke="#0f0f0f" stroke-width="0.22">0.76000</text>
<text x="1173.8" y="650.1" font-size="12" fill="#0f0f0f" textLength="42.6" lengthAdjust="spacingAndGlyphs" stroke="#0f0f0f" stroke-width="0.22">0.75000</text>
<path d="M1166 399H1220Q1222 399 1222 401V414Q1222 416 1220 416H1166Z" fill="#2962ff"/>
<text x="1173.8" y="411.9" font-size="12" fill="#fff" textLength="42.6" lengthAdjust="spacingAndGlyphs" stroke="#fff" stroke-width="0.22">0.80000</text>
<path d="M1166 416H1220Q1222 416 1222 418V431Q1222 433 1220 433H1166Z" fill="#3126ff"/>
<text x="1173.8" y="428.9" font-size="12" fill="#fff" textLength="42.6" lengthAdjust="spacingAndGlyphs" stroke="#fff" stroke-width="0.22">0.79973</text>
<path d="M1166 446.2H1224Q1226 446.2 1226 448.2V474.8Q1226 476.8 1224 476.8H1166Z" fill="#089981"/>
<text x="1173.8" y="458.9" font-size="12" fill="#fff" textLength="42.6" lengthAdjust="spacingAndGlyphs" stroke="#fff" stroke-width="0.22">0.79320</text>
<text x="1174.0" y="473.2" font-size="12" fill="#cfe9e4" textLength="51.3" lengthAdjust="spacingAndGlyphs" stroke="#cfe9e4" stroke-width="0.22">05:36:06</text>
<path d="M1166 476.8H1220Q1222 476.8 1222 478.8V492Q1222 494 1220 494H1166Z" fill="#2962ff"/>
<text x="1173.8" y="489.8" font-size="12" fill="#fff" textLength="42.6" lengthAdjust="spacingAndGlyphs" stroke="#fff" stroke-width="0.22">0.79000</text>
<path d="M1166 494H1220Q1222 494 1222 496V509Q1222 511 1220 511H1166Z" fill="#f23645"/>
<text x="1173.8" y="506.9" font-size="12" fill="#fff" textLength="42.6" lengthAdjust="spacingAndGlyphs" stroke="#fff" stroke-width="0.22">0.78322</text>
<path d="M1166 511H1220Q1222 511 1222 513V526Q1222 528 1220 528H1166Z" fill="#2962ff"/>
<text x="1173.8" y="523.9" font-size="12" fill="#fff" textLength="42.6" lengthAdjust="spacingAndGlyphs" stroke="#fff" stroke-width="0.22">0.78000</text>
<rect x="1114" y="446.2" width="50.8" height="16.5" rx="2" fill="#089981"/>
<text x="1118.9" y="458.5" font-size="12" fill="#fff" textLength="43.2" lengthAdjust="spacingAndGlyphs" stroke="#fff" stroke-width="0.22">USDCHF</text>
<path d="M1166 605.8H1216Q1218 605.8 1218 607.8V619.8Q1218 621.8 1216 621.8H1166Z" fill="#26a69a"/>
<text x="1173.8" y="618.3" font-size="12" fill="#fff" textLength="39.0" lengthAdjust="spacingAndGlyphs" stroke="#fff" stroke-width="0.22">98.41 K</text>
<text x="113.8" y="668.5" font-size="12" fill="#0f0f0f" textLength="19.1" lengthAdjust="spacingAndGlyphs" stroke="#0f0f0f" stroke-width="0.22">Jun</text>
<text x="204.3" y="668.5" font-size="12" fill="#0f0f0f" textLength="14.9" lengthAdjust="spacingAndGlyphs" stroke="#0f0f0f" stroke-width="0.22">Jul</text>
<text x="298.5" y="668.5" font-size="12" fill="#0f0f0f" textLength="19.4" lengthAdjust="spacingAndGlyphs" stroke="#0f0f0f" stroke-width="0.22">Aug</text>
<text x="387.0" y="668.5" font-size="12" fill="#0f0f0f" textLength="19.1" lengthAdjust="spacingAndGlyphs" stroke="#0f0f0f" stroke-width="0.22">Sep</text>
<text x="479.5" y="668.5" font-size="12" fill="#0f0f0f" textLength="18.8" lengthAdjust="spacingAndGlyphs" stroke="#0f0f0f" stroke-width="0.22">Oct</text>
<text x="575.8" y="668.5" font-size="12" fill="#0f0f0f" textLength="20.4" lengthAdjust="spacingAndGlyphs" stroke="#0f0f0f" stroke-width="0.22">Nov</text>
<text x="660.4" y="668.5" font-size="12" fill="#0f0f0f" textLength="18.8" lengthAdjust="spacingAndGlyphs" stroke="#0f0f0f" stroke-width="0.22">Dec</text>
<text x="748.3" y="668.5" font-size="12" fill="#0f0f0f" font-weight="700" textLength="27.3" lengthAdjust="spacingAndGlyphs">2026</text>
<text x="840.8" y="668.5" font-size="12" fill="#0f0f0f" textLength="18.7" lengthAdjust="spacingAndGlyphs" stroke="#0f0f0f" stroke-width="0.22">Feb</text>
<text x="924.5" y="668.5" font-size="12" fill="#0f0f0f" textLength="19.2" lengthAdjust="spacingAndGlyphs" stroke="#0f0f0f" stroke-width="0.22">Mar</text>
<text x="1018.1" y="668.5" font-size="12" fill="#0f0f0f" textLength="18.0" lengthAdjust="spacingAndGlyphs" stroke="#0f0f0f" stroke-width="0.22">Apr</text>
<text x="1108.8" y="668.5" font-size="12" fill="#0f0f0f" textLength="20.2" lengthAdjust="spacingAndGlyphs" stroke="#0f0f0f" stroke-width="0.22">May</text>
<g fill="none" stroke="#0f0f0f" stroke-width="1.1" stroke-linejoin="round"><path d="M1191.4 665.9L1194.9 659.8H1201.9L1205.4 665.9L1201.9 672H1194.9Z"/><circle cx="1198.4" cy="665.9" r="2.3"/></g>
<path d="M50 679.5H1231" stroke="#e6e6e6"/>
<text x="64.6" y="704.2" font-size="14" fill="#0f0f0f" textLength="15.1" lengthAdjust="spacingAndGlyphs" stroke="#0f0f0f" stroke-width="0.22">1D</text>
<text x="92.7" y="704.2" font-size="14" fill="#0f0f0f" textLength="14.8" lengthAdjust="spacingAndGlyphs" stroke="#0f0f0f" stroke-width="0.22">5D</text>
<text x="119.4" y="704.2" font-size="14" fill="#0f0f0f" textLength="18.8" lengthAdjust="spacingAndGlyphs" stroke="#0f0f0f" stroke-width="0.22">1M</text>
<text x="149.6" y="704.2" font-size="14" fill="#0f0f0f" textLength="17.1" lengthAdjust="spacingAndGlyphs" stroke="#0f0f0f" stroke-width="0.22">3M</text>
<text x="178.2" y="704.2" font-size="14" fill="#0f0f0f" textLength="17.5" lengthAdjust="spacingAndGlyphs" stroke="#0f0f0f" stroke-width="0.22">6M</text>
<text x="207.9" y="704.2" font-size="14" fill="#0f0f0f" textLength="24.0" lengthAdjust="spacingAndGlyphs" stroke="#0f0f0f" stroke-width="0.22">YTD</text>
<text x="244.4" y="704.2" font-size="14" fill="#0f0f0f" textLength="14.6" lengthAdjust="spacingAndGlyphs" stroke="#0f0f0f" stroke-width="0.22">1Y</text>
<text x="273.0" y="704.2" font-size="14" fill="#0f0f0f" textLength="13.9" lengthAdjust="spacingAndGlyphs" stroke="#0f0f0f" stroke-width="0.22">5Y</text>
<text x="300.0" y="704.2" font-size="14" fill="#0f0f0f" textLength="14.9" lengthAdjust="spacingAndGlyphs" stroke="#0f0f0f" stroke-width="0.22">All</text>
<path d="M326.5 688.5V710" stroke="#e6e6e6"/>
<g fill="none" stroke="#0f0f0f" stroke-width="1.1" stroke-linecap="round" stroke-linejoin="round"><path d="M343 698.6V693.6Q343 691.6 345 691.6H357.2Q359.2 691.6 359.2 693.6V704.8Q359.2 706.8 357.2 706.8H351.6"/><path d="M343 695.8H359.2 M346.8 689.4V691.6 M355.4 689.4V691.6"/><path d="M341.2 703H348.6 M346 700.2L348.8 703L346 705.8"/></g>
<text x="1137.1" y="703.8" font-size="14" fill="#0f0f0f" textLength="83.2" lengthAdjust="spacingAndGlyphs" stroke="#0f0f0f" stroke-width="0.22">15:23:54 UTC</text>
</svg>
<div id="rightbar" class="abs" style="left:1235px;top:34px;width:41px;height:679px;background:#fff;border-top-left-radius:4px"></div>
<svg class="abs icons" style="left:1235px;top:34px" width="41" height="679" viewBox="1235 34 41 679">
<g fill="none" stroke="#0f0f0f" stroke-width="1.1" stroke-linecap="round" stroke-linejoin="round" stroke-linejoin="miter"><path d="M1248.4 47.4H1267.6V69.5L1258 65.3L1248.4 69.5Z"/><path d="M1252.2 52.4H1263.8 M1252.2 56.2H1263.8 M1252.2 60.2H1263.8"/></g>
<g fill="none" stroke="#0f0f0f" stroke-width="1.1" stroke-linecap="round" stroke-linejoin="round"><circle cx="1258.1" cy="103.8" r="10.6"/><path d="M1258.7 98.5V105.2H1253.3"/><path d="M1245.5 96.6L1251.1 91.5 M1265 91.5L1270.7 96.6"/></g>
<g fill="none" stroke="#0f0f0f" stroke-width="1.1" stroke-linecap="round" stroke-linejoin="round"><path d="M1257.7 140.3L1269 146.6L1257.7 153.2L1246.5 146.6Z"/><path d="M1246.5 152.5L1257.7 159L1269 152.5"/></g>
<g fill="none" stroke="#0f0f0f" stroke-width="1.1" stroke-linecap="round" stroke-linejoin="round"><path d="M1248.5 185.2H1263.7Q1265.7 185.2 1265.7 187.2V198.6Q1265.7 200.6 1263.7 200.6H1250.6L1246.5 204.8V187.2Q1246.5 185.2 1248.5 185.2Z"/><path d="M1265.7 192.9H1267.7Q1269.7 192.9 1269.7 194.9V208.6L1265.6 204.2H1258Q1255.8 204 1255.6 201.3"/></g>
<g fill="none" stroke="#0f0f0f" stroke-width="1.1" stroke-linecap="round" stroke-linejoin="round"><circle cx="1258.1" cy="410.8" r="13.5"/><circle cx="1258.1" cy="410.8" r="7.7"/><circle cx="1258.1" cy="410.8" r="1.7" fill="#0f0f0f"/><path d="M1258.1 410.8L1267.6 401.6"/></g>
<g fill="none" stroke="#0f0f0f" stroke-width="1.1" stroke-linecap="round" stroke-linejoin="round" stroke-linejoin="miter"><path d="M1258.1 443.6L1267.6 454.6L1261.9 458.4L1255.6 453.4L1248.6 455.6Z"/><path d="M1249.6 459.4L1245.5 465.5H1270.7L1266.3 459.2"/></g>
<g fill="none" stroke="#0f0f0f" stroke-width="1.1" stroke-linecap="round" stroke-linejoin="round"><rect x="1246.4" y="489.4" width="23.4" height="21.2" rx="3"/><path d="M1246.4 496.3H1269.8"/><rect x="1250.9" y="487.1" width="2.6" height="5" rx="1" fill="#fff"/><rect x="1263" y="487.1" width="2.6" height="5" rx="1" fill="#fff"/></g>
<g fill="none" stroke="#0f0f0f" stroke-width="1.1" stroke-linecap="round" stroke-linejoin="round" stroke-linecap="butt"><circle cx="1248.9" cy="552.9" r="1.5"/><path d="M1247.1 545.5A9.1 9.1 0 0 1 1256.2 554.6"/><path d="M1247.1 539.5A15.1 15.1 0 0 1 1262.2 554.6"/><path d="M1247.1 533.4A21.2 21.2 0 0 1 1268.3 554.6"/></g>
<circle cx="1267.9" cy="533.5" r="9.4" fill="#fff"/><circle cx="1267.9" cy="533.5" r="8" fill="#f23645"/>
<text x="1267.9" y="537.9" font-size="12.5" fill="#fff" font-weight="700" text-anchor="middle">2</text>
<g fill="none" stroke="#0f0f0f" stroke-width="1.1" stroke-linecap="round" stroke-linejoin="round"><path d="M1248.9 596.6V588Q1249.2 581 1254.9 578.3Q1256.4 576.6 1257.9 576.9Q1259.6 576.6 1261 578.3Q1266.8 581 1267.1 588V596.6"/><rect x="1246.1" y="596.6" width="23.6" height="3.7" rx="1.85" fill="#fff"/><path d="M1253.6 600.4Q1257.9 605.6 1262 600.4"/></g>
<circle cx="1267.8" cy="579.7" r="9.3" fill="#fff"/><circle cx="1267.8" cy="579.7" r="7.9" fill="#f23645"/>
<text x="1267.8" y="584.1" font-size="12.5" fill="#fff" font-weight="700" text-anchor="middle">2</text>
<circle cx="1257.7" cy="636.8" r="16.8" fill="#2b2b2b"/>
<rect x="1249.0" y="627.8" width="4.1" height="4.1" rx="0.7" fill="#fff"/>
<rect x="1249.0" y="634.8" width="4.1" height="4.1" rx="0.7" fill="#fff"/>
<rect x="1249.0" y="641.8" width="4.1" height="4.1" rx="0.7" fill="#fff"/>
<rect x="1256.0" y="627.8" width="4.1" height="4.1" rx="0.7" fill="#fff"/>
<rect x="1256.0" y="634.8" width="4.1" height="4.1" rx="0.7" fill="#fff"/>
<rect x="1256.0" y="641.8" width="4.1" height="4.1" rx="0.7" fill="#fff"/>
<rect x="1263.0" y="627.8" width="4.1" height="4.1" rx="0.7" fill="#fff"/>
<rect x="1263.0" y="634.8" width="4.1" height="4.1" rx="0.7" fill="#fff"/>
<rect x="1263.0" y="641.8" width="4.1" height="4.1" rx="0.7" fill="#fff"/>
<path d="M1241.5 665.5H1273" stroke="#e6e6e6"/>
<g fill="none" stroke="#0f0f0f" stroke-width="1.1" stroke-linecap="round" stroke-linejoin="round"><circle cx="1257.9" cy="693.9" r="13.6"/><path d="M1253.8 689.6Q1254 685.6 1257.9 685.6Q1261.8 685.8 1261.8 689.2Q1261.8 691.4 1259.4 692.8Q1257.7 694 1257.7 696.6"/><circle cx="1257.7" cy="700.6" r="0.9"/></g>
</svg>
</body></html>
